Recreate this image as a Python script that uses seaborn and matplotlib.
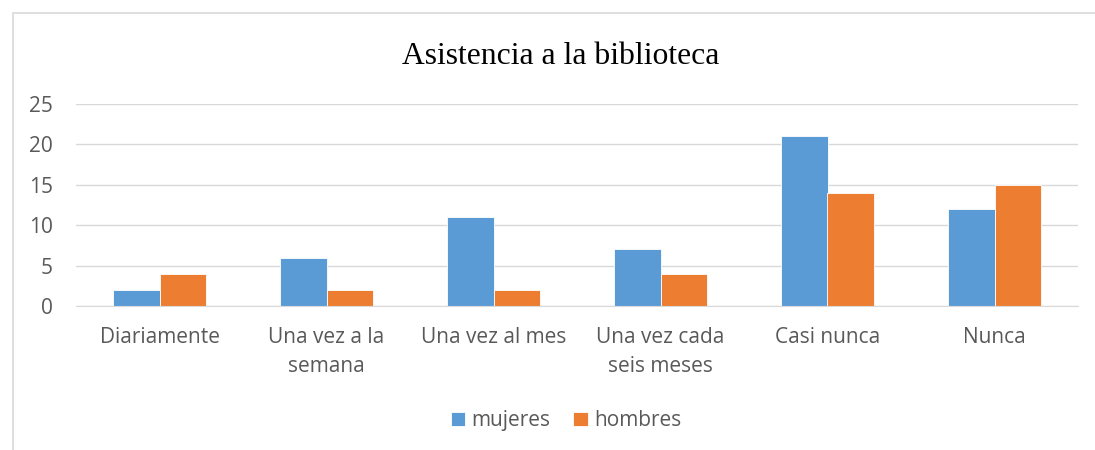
import pandas as pd
import seaborn as sns
import matplotlib.pyplot as plt
from matplotlib.patches import Rectangle

# Data
categories = ['Diariamente', 'Una vez a la\nsemana', 'Una vez al mes',
              'Una vez cada\nseis meses', 'Casi nunca', 'Nunca']
mujeres = [2, 6, 11, 7, 21, 12]
hombres = [4, 2, 2, 4, 14, 15]
series_names = ['mujeres', 'hombres']
colors = ['#5B9BD5', '#ED7D31']
y_ticks = [0, 5, 10, 15, 20, 25]

df = pd.DataFrame({
    'categoria': categories * 2,
    'valor': mujeres + hombres,
    'serie': [series_names[0]] * len(categories) + [series_names[1]] * len(categories),
})

sns.set_style('white')
plt.rcParams['font.family'] = ['Open Sans', 'DejaVu Sans']

fig = plt.figure(figsize=(10.95, 4.5), dpi=100)
ax = fig.add_axes([76 / 1095, 1 - 306 / 450, (1078 - 76) / 1095, (306 - 104) / 450])

sns.barplot(data=df, x='categoria', y='valor', hue='serie', palette=colors,
            saturation=1, width=0.56, gap=0, ax=ax, edgecolor='white',
            linewidth=0.6, legend=True)

ax.set_ylim(0, 25)
ax.set_yticks(y_ticks)
ax.set_xlim(-0.5, len(categories) - 0.5)
ax.grid(axis='y', color='#d9d9d9', lw=1)
ax.set_axisbelow(True)
for s in ['top', 'right', 'left']:
    ax.spines[s].set_visible(False)
ax.spines['bottom'].set_color('#d9d9d9')
ax.set_xlabel('')
ax.set_ylabel('')
ax.tick_params(axis='y', length=0, pad=16.5, labelsize=15, labelcolor='#595959')
ax.tick_params(axis='x', length=0, pad=15, labelsize=15, labelcolor='#595959')
for lbl in ax.get_xticklabels():
    lbl.set_linespacing(1.5)
    lbl.set_verticalalignment('top')

# legend at the bottom
handles, labels = ax.get_legend_handles_labels()
ax.get_legend().remove()
fig.legend(handles, labels, loc='center', bbox_to_anchor=(0.517, 0.065), ncol=2,
           frameon=False, fontsize=15, labelcolor='#595959',
           handlelength=0.7, handleheight=0.7, handletextpad=0.3, columnspacing=1.1)

fig.text(0.512, 1 - 56 / 450, 'Asistencia a la biblioteca', ha='center', va='center',
         fontsize=22.8, family='Liberation Serif', color='black')

# chart area border
fig.patches.append(Rectangle((13 / 1095, -0.2), 1.2, 1 - 13 / 450 + 0.2,
                             transform=fig.transFigure, fill=False,
                             edgecolor='#d9d9d9', lw=1.2))

fig.savefig('out.png', dpi=100)
